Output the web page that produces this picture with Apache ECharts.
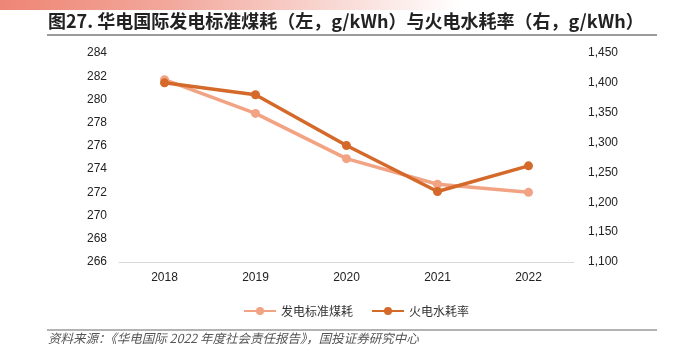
<!DOCTYPE html>
<html>
<head>
<meta charset="utf-8">
<script src="https://cdn.jsdelivr.net/npm/echarts@6/dist/echarts.min.js"></script>
<style>
html,body{margin:0;padding:0;background:#fff;}
#c{width:679px;height:355px;}
</style>
</head>
<body>
<div id="c"></div>
<script>
const titleText = '图27. 华电国际发电标准煤耗（左，g/kWh）与火电水耗率（右，g/kWh）';
const sourceText = '资料来源：《华电国际 2022 年度社会责任报告》，国投证券研究中心';
const categories = ['2018', '2019', '2020', '2021', '2022'];
const seriesNames = ['发电标准煤耗', '火电水耗率'];
const coalConsumption = [281.7, 278.8, 274.9, 272.7, 272.0];
const waterConsumption = [1400, 1380, 1295, 1218, 1261];
const leftTicks = {min: 266, max: 284, interval: 2};
const rightTicks = {min: 1100, max: 1450, interval: 50};

const lightColor = '#F2A383';
const darkColor = '#D4692A';
const axisFont = '"Liberation Sans", Arial, sans-serif';
const cjkFont = '"Noto Sans CJK SC", sans-serif';

const chart = echarts.init(document.getElementById('c'), null, {renderer: 'canvas'});
chart.setOption({
  animation: false,
  backgroundColor: '#fff',
  graphic: [
    {
      type: 'rect', left: 0, top: 0, z: 0,
      shape: {width: 679, height: 10},
      style: {
        fill: new echarts.graphic.LinearGradient(0, 0, 1, 0, [
          {offset: 0, color: '#EE8574'},
          {offset: 0.25, color: '#F2A89C'},
          {offset: 0.5, color: '#F9DAD5'},
          {offset: 0.68, color: '#FFFFFF'},
          {offset: 1, color: '#FFFFFF'}
        ])
      }
    },
    {
      type: 'text', left: 48, top: 12,
      style: {text: titleText, font: 'bold 18px ' + cjkFont, fill: '#222'}
    },
    {
      type: 'line', shape: {x1: 47, y1: 35, x2: 657, y2: 35},
      style: {stroke: '#9a9a9a', lineWidth: 2}
    },
    {
      type: 'line', shape: {x1: 47, y1: 330, x2: 657, y2: 330},
      style: {stroke: '#9a9a9a', lineWidth: 1.5}
    },
    {
      type: 'text', left: 48, top: 332,
      style: {text: sourceText, font: 'italic 12.5px ' + cjkFont, fill: '#555'}
    }
  ],
  grid: {left: 119, right: 105, top: 53, bottom: 93, containLabel: false},
  legend: {
    data: seriesNames,
    left: 238, top: 300,
    itemWidth: 32, itemHeight: 10, itemGap: 18,
    textStyle: {fontFamily: cjkFont, fontSize: 12, color: '#333'}
  },
  xAxis: {
    type: 'category',
    data: categories,
    boundaryGap: true,
    axisLine: {lineStyle: {color: '#d9d9d9', width: 1}},
    axisTick: {show: false},
    axisLabel: {fontFamily: axisFont, fontSize: 12, color: '#222', margin: 10}
  },
  yAxis: [
    {
      type: 'value', min: leftTicks.min, max: leftTicks.max, interval: leftTicks.interval,
      axisLine: {show: false}, axisTick: {show: false}, splitLine: {show: false},
      axisLabel: {fontFamily: axisFont, fontSize: 12, color: '#222', margin: 12}
    },
    {
      type: 'value', min: rightTicks.min, max: rightTicks.max, interval: rightTicks.interval,
      axisLine: {show: false}, axisTick: {show: false}, splitLine: {show: false},
      axisLabel: {
        fontFamily: axisFont, fontSize: 12, color: '#222', margin: 14,
        formatter: v => v.toLocaleString('en-US')
      }
    }
  ],
  series: [
    {
      name: seriesNames[0], type: 'line', yAxisIndex: 0, data: coalConsumption,
      symbol: 'circle', symbolSize: 9,
      lineStyle: {color: lightColor, width: 3.5},
      itemStyle: {color: lightColor}
    },
    {
      name: seriesNames[1], type: 'line', yAxisIndex: 1, data: waterConsumption,
      symbol: 'circle', symbolSize: 9,
      lineStyle: {color: darkColor, width: 3.5},
      itemStyle: {color: darkColor}
    }
  ]
});
</script>
</body>
</html>
